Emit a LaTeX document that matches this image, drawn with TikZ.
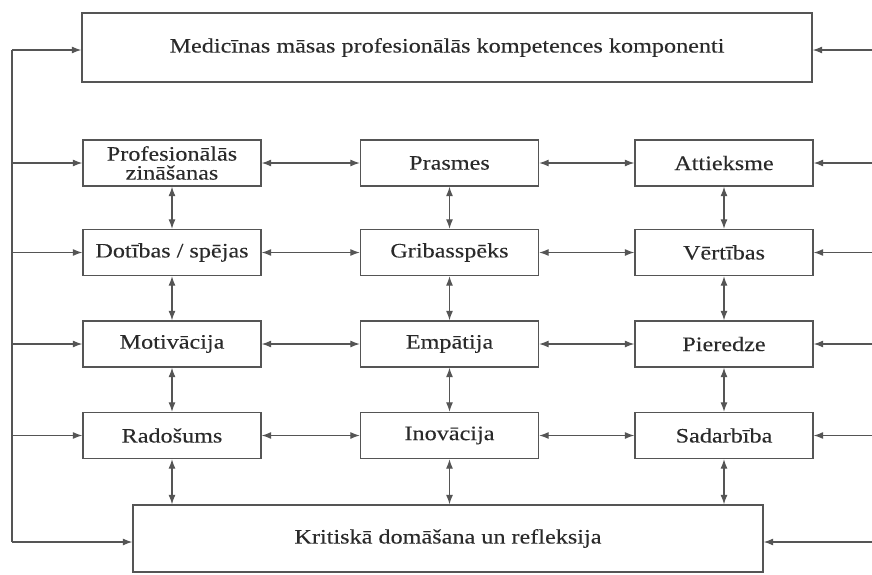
\documentclass[tikz,border=0pt]{standalone}
\usepackage{fontspec}
\setmainfont{Liberation Serif}[FakeStretch=1.18,FakeBold=0.12]
\usetikzlibrary{arrows.meta}
\definecolor{linec}{HTML}{555555}
\definecolor{textc}{HTML}{2A2A2A}
\begin{document}
\begin{tikzpicture}[x=1pt,y=-1pt,
  box/.style={draw=linec,line width=1.3pt,rectangle,inner sep=0pt,
    text=textc,font=\fontsize{20.5}{19}\selectfont,align=center},
  cbox/.style={box,minimum width=178pt,minimum height=46pt},
  conn/.style={draw=linec,line width=1.2pt,-{Latex[length=9.5pt,width=7pt]}},
  biconn/.style={draw=linec,line width=1.2pt,{Latex[length=9.5pt,width=7pt]}-{Latex[length=9.5pt,width=7pt]}}]
\useasboundingbox (0,0) rectangle (872,574);
\fill[white] (0,0) rectangle (872,574);
% top and bottom boxes
\node[box,minimum width=730pt,minimum height=69pt] (top) at (447,47.5) {Medicīnas māsas profesionālās kompetences komponenti};
\node[box,minimum width=630pt,minimum height=67pt] (bot) at (448,538.5) {Kritiskā domāšana un refleksija};
% grid boxes
\node[cbox] (a1) at (172,163) {Profesionālās\\zināšanas};
\node[cbox] (b1) at (449.5,163) {Prasmes};
\node[cbox] (c1) at (724,163) {Attieksme};
\node[cbox] (a2) at (172,252.5) {Dotības / spējas};
\node[cbox] (b2) at (449.5,252.5) {Gribasspēks};
\node[cbox] (c2) at (724,252.5) {Vērtības};
\node[cbox] (a3) at (172,344) {Motivācija};
\node[cbox] (b3) at (449.5,344) {Empātija};
\node[cbox] (c3) at (724,344) {Pieredze};
\node[cbox] (a4) at (172,435.5) {Radošums};
\node[cbox] (b4) at (449.5,435.5) {Inovācija};
\node[cbox] (c4) at (724,435.5) {Sadarbība};
% horizontal links
\foreach \r in {1,2,3,4}{
  \draw[biconn] (a\r.east) -- (b\r.west);
  \draw[biconn] (b\r.east) -- (c\r.west);
}
% vertical links
\foreach \c in {a,b,c}{
  \draw[biconn] (\c1.south) -- (\c2.north);
  \draw[biconn] (\c2.south) -- (\c3.north);
  \draw[biconn] (\c3.south) -- (\c4.north);
  \draw[biconn] (\c4.south) -- (\c4.south |- bot.north);
}
% left feedback line
\coordinate (lx) at (12,0);
\coordinate (rx) at (872,0);
\coordinate (ltop) at (12,50);
\coordinate (lbot) at (12,542);
\draw[draw=linec,line width=1.2pt] (ltop) -- (lbot);
\draw[conn] (ltop) -- (ltop -| top.west);
\draw[conn] (lbot) -- (lbot -| bot.west);
\foreach \r in {1,2,3,4}{
  \draw[conn] (a\r.west -| lx) -- (a\r.west);
  \draw[conn] (c\r.east -| rx) -- (c\r.east);
}
% right inputs
\coordinate (rtop) at (872,50);
\coordinate (rbot) at (872,542);
\draw[conn] (rtop) -- (rtop -| top.east);
\draw[conn] (rbot) -- (rbot -| bot.east);
\end{tikzpicture}
\end{document}
